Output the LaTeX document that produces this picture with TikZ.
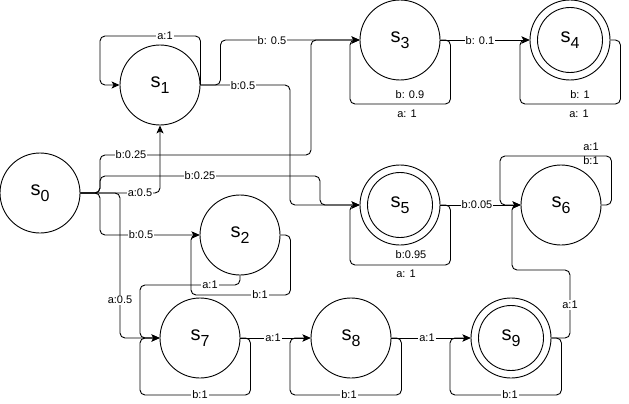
\documentclass[tikz,border=0pt]{standalone}
\usepackage{fontspec}
\setmainfont{Liberation Sans}
\usetikzlibrary{arrows.meta}
% state name: large "s" with a lowered index
\newcommand\stname[1]{{\fontsize{20}{20}\selectfont s\raisebox{-6pt}{\fontsize{16}{16}\selectfont #1}}}
\begin{document}
\begin{tikzpicture}[x=1pt,y=-1pt,
  state/.style={circle,draw,line width=0.9pt,minimum size=80pt,inner sep=0pt},
  accept/.style={state,path picture={\draw[line width=0.9pt] (path picture bounding box.center) circle[radius=32.5pt];}},
  edge/.style={draw,line width=0.9pt,rounded corners=5pt,-{Stealth[length=8pt,width=7pt,inset=2pt]}},
  lab/.style={fill=white,inner sep=1pt,font=\fontsize{11}{11}\selectfont},
  txt/.style={inner sep=0pt,font=\fontsize{11}{11}\selectfont}]
\useasboundingbox (0,0) rectangle (629,404);

% states
\node[state]  (s0) at (40,193)  {\stname{0}};
\node[state]  (s1) at (160,85)  {\stname{1}};
\node[state]  (s2) at (240,235) {\stname{2}};
\node[state]  (s3) at (400,40)  {\stname{3}};
\node[accept] (s4) at (570,40)  {\stname{4}};
\node[accept] (s5) at (400,205) {\stname{5}};
\node[state]  (s6) at (561,205) {\stname{6}};
\node[state]  (s7) at (200,338) {\stname{7}};
\node[state]  (s8) at (351,338) {\stname{8}};
\node[accept] (s9) at (511,338) {\stname{9}};

% transitions out of s0
\draw[edge] (s0.east) -- (100,193) |- (311,155) |- (s3.west);
\draw[edge] (s0.east) -- (100,193) |- (320,176) |- (s5.west);
\draw[edge] (s0.east) -| (s1.south);
\draw[edge] (s0.east) -- (100,193) |- (s2.west);
\draw[edge] (s0.east) -- (120,193) |- (s7.west);

% s1
\draw[edge] (s1.east) |- (100,36) |- (s1.west);
\draw[edge] (s1.east) -- ++(20,0) |- (s3.west);
\draw[edge] (s1.east) -| (290,205) -- (s5.west);

% s2
\draw[edge] (s2.east) -- ++(10,0) |- (191,295) |- (s2.west);
\draw[edge] (s2.south) |- (140,285) |- (s7.west);

% s3, s4
\draw[edge] (s3.east) -- ++(10,0) |- (350,104) |- (s3.west);
\draw[edge] (s3.east) -- (s4.west);
\draw[edge] (s4.east) -- ++(10,0) |- (520,104) |- (s4.west);

% s5, s6
\draw[edge] (s5.east) -- ++(10,0) |- (350,265) |- (s5.west);
\draw[edge] (s5.east) -- (s6.west);
\draw[edge] (s6.east) -- ++(10,0) |- (500,156) |- (s6.west);

% s7, s8, s9
\draw[edge] (s7.east) -- ++(10,0) |- (140,395) |- (s7.west);
\draw[edge] (s7.east) -- (s8.west);
\draw[edge] (s8.east) -- ++(10,0) |- (290,395) |- (s8.west);
\draw[edge] (s8.east) -- (s9.west);
\draw[edge] (s9.east) -- ++(10,0) |- (450,395) |- (s9.west);
\draw[edge] (s9.east) -| (570,270) -| (512,205) -- (s6.west);

% labels on the connectors
\node[lab] at (165,36)  {a:1};
\node[lab] at (272,41)  {b: 0.5};
\node[lab] at (243,86)  {b:0.5};
\node[lab] at (131,155) {b:0.25};
\node[lab] at (200,176) {b:0.25};
\node[lab] at (140,193) {a:0.5};
\node[lab] at (141,235) {b:0.5};
\node[lab] at (120,300) {a:0.5};
\node[lab] at (210,285) {a:1};
\node[lab] at (260,295) {b:1};
\node[lab] at (200,395) {b:1};
\node[lab] at (273,338) {a:1};
\node[lab] at (349,395) {b:1};
\node[lab] at (427,338) {a:1};
\node[lab] at (510,395) {b:1};
\node[lab] at (570,305) {a:1};
\node[lab] at (480,41)  {b: 0.1};
\node[lab] at (477,205) {b:0.05};

% labels beside the self-loops
\node[txt] at (410,95)  {b: 0.9};
\node[txt] at (407,114) {a: 1};
\node[txt] at (580,95)  {b: 1};
\node[txt] at (579,114) {a: 1};
\node[txt] at (411,255) {b:0.95};
\node[txt] at (406,274) {a: 1};
\node[txt] at (591,147) {a:1};
\node[txt] at (591,161) {b:1};
\end{tikzpicture}
\end{document}
